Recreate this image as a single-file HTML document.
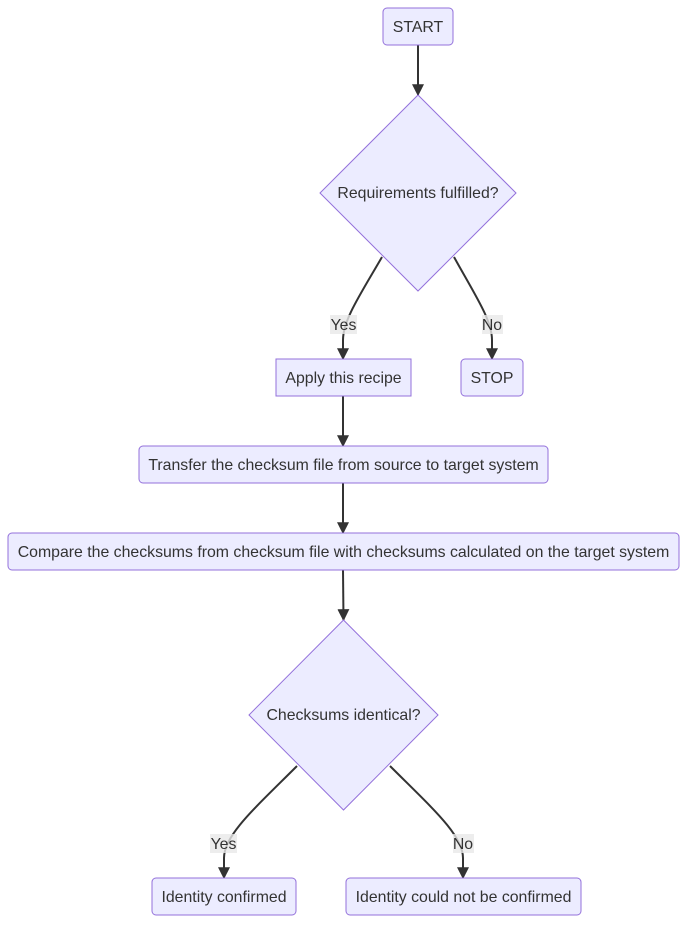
<!DOCTYPE html>
<html><head><meta charset="utf-8"><style>
html,body{margin:0;padding:0;background:#fff;}
svg{display:block;}
text{font-family:"Liberation Sans",Arial,sans-serif;font-size:15.85px;fill:#333;}
.n{fill:#ECECFF;stroke:#9370DB;stroke-width:1;}
.e{fill:none;stroke:#333;stroke-width:2;}
.lb{fill:rgba(232,232,232,0.8);}
</style></head><body>
<svg width="695" height="933" viewBox="0 0 695 933" xmlns="http://www.w3.org/2000/svg">
<defs>
<marker id="a" viewBox="0 0 10 10" refX="9" refY="5" markerWidth="12" markerHeight="12" markerUnits="userSpaceOnUse" orient="auto">
<path d="M0,0 L10,5 L0,10 z" fill="#333"/>
</marker>
</defs>
<path class="e" d="M418,45 L418,95" marker-end="url(#a)"/>
<path class="e" d="M382,257 C360,295 343,320 343,340 L343,359" marker-end="url(#a)"/>
<path class="e" d="M454,257 C475,295 492,320 492,340 L492,359" marker-end="url(#a)"/>
<path class="e" d="M343,396 L343,446" marker-end="url(#a)"/>
<path class="e" d="M343,483 L343,533" marker-end="url(#a)"/>
<path class="e" d="M343,570 L343.5,620" marker-end="url(#a)"/>
<path class="e" d="M297,766 C255,808 224,835 224,858 L224,878" marker-end="url(#a)"/>
<path class="e" d="M390,766 C432,808 463,835 463,858 L463,878" marker-end="url(#a)"/>
<rect class="n" x="383" y="8" width="70" height="37" rx="4"/>
<text x="418" y="32" text-anchor="middle">START</text>
<polygon class="n" points="418,95 516,193 418,291 320,193"/>
<text x="418" y="198" text-anchor="middle">Requirements fulfilled?</text>
<rect class="n" x="276" y="359" width="135" height="37"/>
<text x="343.5" y="383" text-anchor="middle">Apply this recipe</text>
<rect class="n" x="461" y="359" width="62" height="37" rx="4"/>
<text x="492" y="383" text-anchor="middle">STOP</text>
<rect class="n" x="139" y="446" width="409" height="37" rx="4"/>
<text x="343.5" y="470" text-anchor="middle">Transfer the checksum file from source to target system</text>
<rect class="n" x="8" y="533" width="671" height="37" rx="4"/>
<text x="343.5" y="557" text-anchor="middle">Compare the checksums from checksum file with checksums calculated on the target system</text>
<polygon class="n" points="343.5,620 438,715 343.5,810 249,715"/>
<text x="343.5" y="720" text-anchor="middle">Checksums identical?</text>
<rect class="n" x="152" y="878" width="144" height="37" rx="4"/>
<text x="224" y="902" text-anchor="middle">Identity confirmed</text>
<rect class="n" x="346" y="878" width="235" height="37" rx="4"/>
<text x="463.5" y="902" text-anchor="middle">Identity could not be confirmed</text>
<rect class="lb" x="330" y="315" width="27" height="19"/>
<text x="343.5" y="330" text-anchor="middle">Yes</text>
<rect class="lb" x="482" y="315" width="21" height="19"/>
<text x="492" y="330" text-anchor="middle">No</text>
<rect class="lb" x="210" y="834" width="27" height="19"/>
<text x="223.5" y="849" text-anchor="middle">Yes</text>
<rect class="lb" x="453" y="834" width="21" height="19"/>
<text x="463" y="849" text-anchor="middle">No</text>
</svg>
</body></html>
